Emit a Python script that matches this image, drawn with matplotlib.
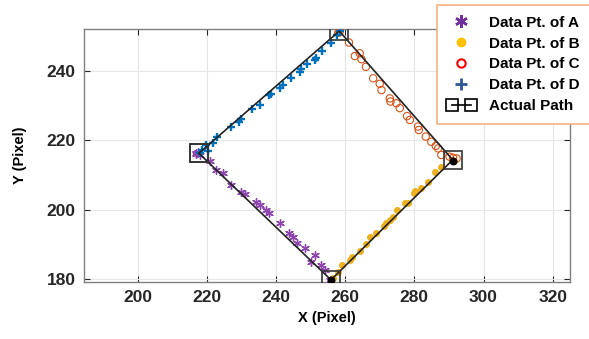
import numpy as np
import matplotlib
matplotlib.use('Agg')
import matplotlib.pyplot as plt
from matplotlib.lines import Line2D
from matplotlib.legend_handler import HandlerLine2D

plt.rcParams['font.family'] = ['Liberation Sans', 'DejaVu Sans']
plt.rcParams['font.weight'] = 'bold'

# 实际路径（四个角点）
path_x = [217.7, 258.3, 291.1, 255.9, 217.7]
path_y = [216.3, 251.5, 214.4, 179.8, 216.3]

# A 点
a_x = [217.0, 217.5, 218.0, 216.8, 221.0, 222.8, 224.7, 227.1, 230.0, 230.9, 234.1, 235.3,
       237.0, 238.0, 241.1, 243.9, 244.9, 246.2, 248.3, 251.2, 250.2, 253.1, 254.1, 255.5, 256.0]
a_y = [216.3, 216.8, 215.8, 216.0, 214.2, 211.5, 210.5, 207.2, 205.2, 204.6, 202.2, 201.4,
       200.0, 199.0, 196.1, 193.3, 192.1, 190.4, 188.9, 187.0, 185.1, 184.1, 182.7, 179.8, 179.5]

# B 点
b_x = [256.0, 256.5, 257.9, 259.2, 261.3, 262.1, 264.2, 266.1, 267.1, 269.0, 271.1, 271.9,
       272.9, 273.7, 275.0, 277.2, 278.2, 279.9, 280.1, 282.0, 284.0, 285.9, 287.8, 291.0, 291.5]
b_y = [179.8, 180.3, 182.2, 184.1, 185.6, 186.3, 188.2, 190.2, 192.1, 193.4, 195.2, 196.1,
       197.1, 198.0, 199.9, 202.1, 202.1, 204.8, 205.3, 206.2, 208.1, 211.0, 212.4, 214.4, 214.0]

# C 点
c_x = [258.4, 258.0, 261.1, 262.8, 264.2, 264.7, 266.0, 268.1, 270.0, 270.5, 272.9, 273.1,
       274.8, 275.8, 277.9, 278.7, 281.1, 281.3, 283.3, 284.9, 286.2, 286.9, 287.8, 290.2,
       291.2, 292.2]
c_y = [251.3, 251.0, 248.2, 244.3, 245.1, 243.4, 241.2, 237.9, 236.3, 234.5, 232.1, 231.2,
       230.7, 229.3, 227.0, 225.9, 224.0, 223.0, 221.1, 219.6, 218.4, 217.7, 215.8, 215.3,
       215.0, 214.8]

# D 点
d_x = [218.0, 218.6, 219.7, 220.3, 221.8, 222.9, 227.1, 229.3, 230.0, 233.2, 235.3, 238.0,
       238.7, 241.1, 242.0, 244.2, 246.8, 247.3, 249.1, 251.2, 251.7, 253.4, 256.0, 257.6, 258.4]
d_y = [216.5, 217.2, 218.7, 217.0, 219.2, 221.1, 224.0, 225.4, 226.1, 229.0, 230.2, 233.1,
       233.4, 235.0, 236.0, 237.9, 239.8, 240.5, 241.9, 243.2, 243.8, 245.8, 248.0, 250.4, 251.6]

# 终点（黑点）
end_x = [291.2, 256.0]
end_y = [214.2, 179.8]

xticks = [200, 220, 240, 260, 280, 300, 320]
yticks = [180, 200, 220, 240]
labels = ['Data Pt. of A', 'Data Pt. of B', 'Data Pt. of C', 'Data Pt. of D', 'Actual Path']

fig = plt.figure(figsize=(5.89, 3.39), dpi=100)
ax = fig.add_axes([84/589, 1-282/339, 486/589, 253/339])

asterisk = (6, 2, 0)
ax.scatter(a_x, a_y, marker=asterisk, s=30, color='#8E44AD', linewidths=1.0, zorder=3)
ax.scatter(b_x, b_y, marker='o', s=16, color='#EDB120', zorder=3)
ax.scatter(c_x, c_y, marker='o', s=28, facecolors='none', edgecolors='#D95319', linewidths=0.8, zorder=3)
ax.scatter(d_x, d_y, marker='+', s=40, color='#0072BD', linewidths=1.7, zorder=3)
ax.plot(path_x, path_y, color='#222222', linewidth=1.2, marker='s', markersize=13,
        markerfacecolor='none', markeredgecolor='#333333', markeredgewidth=1.2, zorder=4)
ax.scatter(end_x, end_y, marker='o', s=22, color='black', zorder=5)

ax.set_xlim(184.5, 325)
ax.set_ylim(179.2, 252.1)
ax.set_xticks(xticks)
ax.set_yticks(yticks)
ax.tick_params(direction='in', length=4, top=True, right=True, labelsize=12.5, colors='#262626',
               pad=6)
for t in ax.get_xticklabels() + ax.get_yticklabels():
    t.set_fontweight('bold')
for s in ax.spines.values():
    s.set_color('#808080')
    s.set_linewidth(1.0)
ax.grid(True, color='#e6e6e6', linewidth=0.8)
ax.set_axisbelow(True)

ax.set_xlabel('X (Pixel)', fontsize=10.5, fontweight='bold', labelpad=4)
ax.set_ylabel('Y (Pixel)', fontsize=10.5, fontweight='bold', labelpad=14)

# 图例
handles = [
    Line2D([], [], linestyle='none', marker=asterisk, markersize=9, color='#7030A0', markeredgewidth=1.8),
    Line2D([], [], linestyle='none', marker='o', markersize=6, color='#FFC000'),
    Line2D([], [], linestyle='none', marker='o', markersize=6, markerfacecolor='none',
           markeredgecolor='#FF0000', markeredgewidth=1.5),
    Line2D([], [], linestyle='none', marker='+', markersize=9, color='#2F5597', markeredgewidth=2),
    Line2D([], [], color='black', linewidth=1.2, marker='s', markersize=8,
           markerfacecolor='none', markeredgecolor='black', markeredgewidth=1.2),
]
hmap = {h: HandlerLine2D(numpoints=1) for h in handles[:4]}
hmap[handles[4]] = HandlerLine2D(numpoints=2)
leg = fig.legend(handles, labels, loc='upper left', bbox_to_anchor=(437/589, 1-5/339),
                 borderaxespad=0, handler_map=hmap, handlelength=1.8, handletextpad=0.9,
                 labelspacing=0.45, borderpad=0.7, fancybox=False, framealpha=1,
                 prop={'size': 11, 'weight': 'bold'})
leg.get_frame().set_edgecolor('#F4B183')
leg.get_frame().set_linewidth(1.2)

fig.savefig('out.png', dpi=100)
